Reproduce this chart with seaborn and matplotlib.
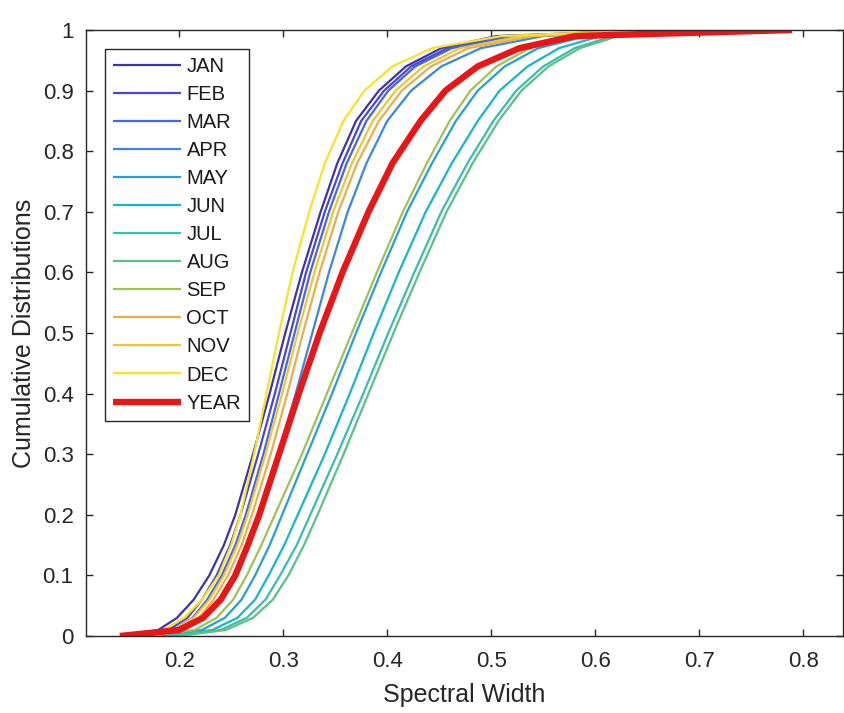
import matplotlib
matplotlib.use("Agg")
import matplotlib.pyplot as plt
from matplotlib.ticker import FuncFormatter, FixedLocator
import seaborn as sns
import pandas as pd

# CDF levels at which the quantiles (spectral widths) were read
levels = [0, 0.01, 0.03, 0.06, 0.1, 0.15, 0.2, 0.3, 0.4, 0.5, 0.6, 0.7, 0.78, 0.85, 0.9, 0.94, 0.97, 0.99, 1.0]

months = ["JAN", "FEB", "MAR", "APR", "MAY", "JUN", "JUL", "AUG", "SEP", "OCT", "NOV", "DEC"]

JAN = [.150, .180, .198, .214, .229, .243, .254, .271, .287, .302, .318, .336, .352, .370, .392, .418, .452, .505, .660]
FEB = [.155, .190, .208, .222, .236, .249, .259, .276, .292, .307, .322, .340, .357, .375, .397, .423, .458, .512, .670]
MAR = [.160, .195, .213, .227, .241, .254, .264, .281, .296, .311, .326, .344, .361, .380, .401, .427, .462, .520, .680]
APR = [.170, .205, .224, .239, .252, .265, .276, .295, .312, .328, .344, .362, .380, .400, .423, .452, .490, .550, .700]
MAY = [.180, .222, .244, .260, .273, .287, .299, .323, .347, .370, .394, .419, .443, .466, .487, .513, .545, .592, .720]
JUN = [.190, .232, .256, .273, .286, .301, .314, .340, .364, .387, .411, .437, .462, .487, .508, .535, .565, .605, .730]
JUL = [.190, .240, .265, .283, .297, .313, .326, .352, .377, .401, .426, .452, .477, .502, .524, .550, .580, .617, .740]
AUG = [.200, .245, .271, .290, .305, .320, .333, .358, .382, .406, .431, .457, .482, .507, .529, .555, .585, .622, .750]
SEP = [.170, .215, .236, .252, .265, .279, .292, .318, .342, .366, .390, .415, .438, .460, .480, .505, .537, .585, .720]
OCT = [.165, .200, .219, .233, .247, .260, .270, .288, .304, .319, .335, .353, .371, .392, .414, .442, .478, .540, .700]
NOV = [.160, .195, .214, .229, .243, .256, .266, .283, .299, .314, .330, .348, .366, .386, .408, .435, .470, .530, .680]
DEC = [.150, .185, .205, .222, .238, .250, .259, .272, .284, .296, .309, .325, .340, .358, .378, .405, .443, .510, .650]
YEAR = [.143, .200, .223, .240, .254, .266, .277, .296, .315, .335, .357, .382, .405, .432, .456, .487, .527, .580, .789]

month_values = [JAN, FEB, MAR, APR, MAY, JUN, JUL, AUG, SEP, OCT, NOV, DEC]
month_colors = ["#3e33a6", "#4846d8", "#4565e6", "#3a86e8", "#23a0dc", "#14b8c6",
                "#35c0aa", "#5cc184", "#a2c154", "#eaae4a", "#f0c438", "#f7e424"]

xticks = [0.2, 0.3, 0.4, 0.5, 0.6, 0.7, 0.8]
yticks = [0, 0.1, 0.2, 0.3, 0.4, 0.5, 0.6, 0.7, 0.8, 0.9, 1.0]

rows = []
for name, vals in zip(months, month_values):
    for lv, v in zip(levels, vals):
        rows.append({"width": v, "cdf": lv, "series": name})
df = pd.DataFrame(rows)
df_year = pd.DataFrame({"width": YEAR, "cdf": levels})

sns.set_style("ticks")
plt.rcParams["font.family"] = ["Liberation Sans", "DejaVu Sans"]

dark = "#262626"
fig = plt.figure(figsize=(8.44, 7.13), dpi=100)
ax = fig.add_axes([86 / 844, 77 / 713, 757 / 844, 606 / 713])

sns.lineplot(data=df, x="width", y="cdf", hue="series", hue_order=months,
             palette=dict(zip(months, month_colors)), sort=False, estimator=None,
             linewidth=1.6, legend=False, ax=ax)
sns.lineplot(data=df_year, x="width", y="cdf", color="#e81616", sort=False,
             estimator=None, linewidth=4.6, legend=False, ax=ax)
for ln in ax.get_lines():
    ln.set_solid_joinstyle("round")
    ln.set_solid_capstyle("butt")

ax.set_xlim(0.1105, 0.838)
ax.set_ylim(0, 1)
ax.xaxis.set_major_locator(FixedLocator(xticks))
ax.yaxis.set_major_locator(FixedLocator(yticks))
fmt = FuncFormatter(lambda v, p: "%g" % round(v, 2))
ax.xaxis.set_major_formatter(fmt)
ax.yaxis.set_major_formatter(fmt)

for s in ax.spines.values():
    s.set_visible(True)
    s.set_color(dark)
    s.set_linewidth(1.0)
ax.tick_params(axis="both", direction="in", length=5, width=1.0, color=dark,
               labelcolor=dark, labelsize=16, top=True, right=True)
ax.tick_params(axis="x", pad=11)
ax.tick_params(axis="y", pad=9)

ax.set_xlabel("Spectral Width", fontsize=18, color=dark, labelpad=8)
ax.set_ylabel("Cumulative Distributions", fontsize=18, color=dark, labelpad=5)

handles = ax.get_lines()[:13]
labels = months + ["YEAR"]
leg = ax.legend(handles, labels, loc="upper left", bbox_to_anchor=(0.025, 0.969),
                borderaxespad=0, fontsize=14.5, handlelength=3.4, handletextpad=0.25,
                labelspacing=0.45, borderpad=0.4, frameon=True, fancybox=False,
                framealpha=1, edgecolor=dark)
leg.get_frame().set_linewidth(1.0)
for t in leg.get_texts():
    t.set_color("#1a1a1a")

fig.savefig("out.png", dpi=100)
